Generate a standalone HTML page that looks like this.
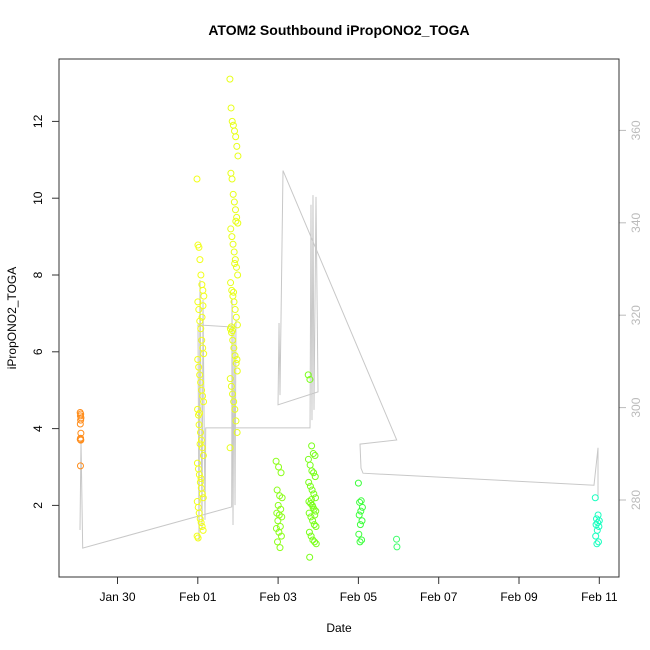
<!DOCTYPE html>
<html><head><meta charset="utf-8"><style>
body{margin:0;background:#fff;}
svg{display:block;font-family:"Liberation Sans",sans-serif;}
</style></head><body>
<svg id="chart" width="650" height="650" xmlns="http://www.w3.org/2000/svg">
<rect width="650" height="650" fill="#fff"/>
<text x="339" y="35" text-anchor="middle" font-size="14" font-weight="bold">ATOM2 Southbound iPropONO2_TOGA</text>
<text x="339" y="632" text-anchor="middle" font-size="12">Date</text>
<text x="16" y="318" text-anchor="middle" font-size="12" transform="rotate(-90 16 318)">iPropONO2_TOGA</text>
<g id="lineLayer"></g><g id="ptLayer"></g><g id="axes"></g>
<rect x="59" y="59" width="560" height="518" fill="none" stroke="#333" stroke-width="1"/>
</svg>
<script>
// days since Jan 30 00:00
const xTickLabels=["Jan 30","Feb 01","Feb 03","Feb 05","Feb 07","Feb 09","Feb 11"];
const xTickDays=[0,2,4,6,8,10,12];
const yTicks=[2,4,6,8,10,12];
const y2Ticks=[280,300,320,340,360];
const groupTimes=[[-0.93,-0.91],[1.98,2.15],[2.8,3.0],[3.95,4.1],[4.75,4.95],[6.0,6.1],[6.95,6.96],[11.9,12.0]];
const groupColors=["#FF8C1A","#F2FF1A","#E8FF1A","#8CFF1A","#7AFF1A","#3CFF3C","#3CFF6A","#1AFFC0"];
const groupValues=[
[4.42,4.38,4.33,4.28,4.22,4.12,3.88,3.75,3.72,3.70,3.03],
[10.5,8.78,8.72,8.4,8.0,7.75,7.6,7.45,7.3,7.1,6.8,6.6,6.3,6.1,5.95,5.8,5.6,5.4,5.2,5.0,4.85,4.7,4.5,4.35,4.4,3.9,3.7,3.5,3.3,3.1,2.95,2.8,2.6,2.45,2.3,2.2,2.1,1.95,1.8,1.65,1.55,1.45,1.35,1.2,1.15,4.1,3.6,2.7,6.9,7.2],
[13.1,12.35,12.0,11.9,11.75,11.6,11.35,11.1,10.65,10.5,10.1,9.9,9.7,9.5,9.35,9.2,9.0,8.8,8.6,8.4,8.2,8.0,7.8,7.6,7.45,7.3,7.1,6.9,6.7,6.6,6.5,6.3,6.1,5.9,5.7,5.5,5.3,5.1,4.9,4.7,4.5,4.2,3.9,3.5,6.65,6.55,7.55,8.3,9.4,5.8],
[3.15,3.0,2.85,2.4,2.25,2.2,2.0,1.9,1.8,1.75,1.7,1.6,1.45,1.4,1.3,1.2,1.05,0.9],
[5.4,5.28,3.55,3.35,3.3,3.2,3.05,2.9,2.85,2.75,2.6,2.5,2.4,2.3,2.2,2.1,2.05,2.0,1.9,1.85,1.8,1.7,1.6,1.5,1.45,1.3,1.2,1.1,1.05,1.0,0.65,2.15,1.95,1.75],
[2.58,2.12,2.08,1.95,1.85,1.75,1.6,1.5,1.25,1.1,1.05],
[1.12,0.92],
[2.2,1.75,1.65,1.6,1.55,1.5,1.45,1.35,1.2,1.05,1.0]];
const lineDays=[-0.934,-0.909,-0.867,2.844,2.852,2.877,2.902,2.927,2.951,2.951,2.005,2.030,2.055,2.105,2.130,2.179,2.197,4.795,4.819,4.844,4.869,4.894,4.944,4.994,3.998,4.023,4.047,4.122,6.954,6.040,6.065,6.115,11.868,11.968,11.968];
const lineAlt=[273.5,293.0,269.6,278.5,323.3,274.6,316.8,278.9,319.0,317.4,317.9,271.3,327.6,273.5,323.3,275.7,295.6,295.6,343.9,297.3,346.0,299.5,345.6,303.4,300.6,318.3,302.7,351.3,293.0,292.1,286.9,285.8,283.2,291.3,280.0];

const NS="http://www.w3.org/2000/svg";
const X=d=>117.5+d*40.15, Y=v=>582.2-v*38.4, Y2=v=>500-(v-280)*4.62;
function mk(t,a,p){const e=document.createElementNS(NS,t);for(const k in a)e.setAttribute(k,a[k]);p.appendChild(e);return e;}
const axes=document.getElementById('axes');
xTickDays.forEach((d,i)=>{
  const t=mk('line',{x1:X(d),x2:X(d),y1:577,y2:584,stroke:'#333'},axes);
  
  const l=mk('text',{x:X(d),y:601,'text-anchor':'middle','font-size':12},axes);l.textContent=xTickLabels[i];
  
});
yTicks.forEach(v=>{
  const t=mk('line',{x1:52,x2:59,y1:Y(v),y2:Y(v),stroke:'#333'},axes);
  
  const l=mk('text',{x:42,y:Y(v),'text-anchor':'middle','font-size':12,transform:`rotate(-90 42 ${Y(v)})`},axes);l.textContent=v;
  
});
y2Ticks.forEach(v=>{
  const t=mk('line',{x1:619,x2:626,y1:Y2(v),y2:Y2(v),stroke:'#bbb'},axes);
  
  const l=mk('text',{x:640,y:Y2(v),'text-anchor':'middle','font-size':12,fill:'#bbb',transform:`rotate(-90 640 ${Y2(v)})`},axes);l.textContent=v;
  
});
const pl=mk('polyline',{points:lineDays.map((d,i)=>X(d)+','+Y2(lineAlt[i])).join(' '),fill:'none',stroke:'#c8c8c8','stroke-width':1},document.getElementById('lineLayer'));


const pts=document.getElementById('ptLayer');
groupValues.forEach((vals,g)=>{
  const [t0,t1]=groupTimes[g];
  vals.forEach((v,i)=>{
    const d=t0+(t1-t0)*((i*7)%vals.length)/Math.max(1,vals.length-1);
    const c=mk('circle',{cx:X(d),cy:Y(v),r:3,fill:'none',stroke:groupColors[g],'stroke-width':1},pts);
    
    
  });
});
</script>
</body></html>
